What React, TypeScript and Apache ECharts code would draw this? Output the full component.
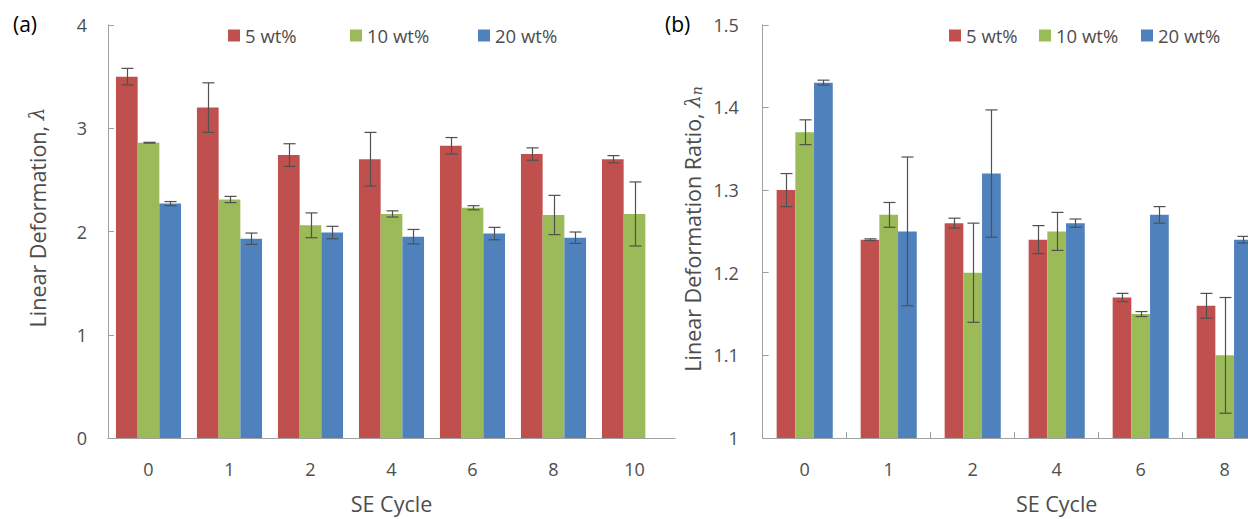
import React, { useEffect, useRef } from "react";
import * as echarts from "echarts";

const categories = ["0", "1", "2", "4", "6", "8", "10"];
const seriesNames = ["5 wt%", "10 wt%", "20 wt%"];
const colors = ["#C0504D", "#9BBB59", "#4F81BD"];

// Panel (a): Linear deformation
const aRed = [3.5, 3.2, 2.74, 2.7, 2.83, 2.75, 2.7];
const aGreen = [2.86, 2.31, 2.06, 2.17, 2.23, 2.16, 2.17];
const aBlue = [2.27, 1.93, 1.99, 1.95, 1.98, 1.94, null];
const aRedErr = [0.08, 0.24, 0.11, 0.26, 0.08, 0.06, 0.035];
const aGreenErr = [0.004, 0.03, 0.12, 0.03, 0.02, 0.19, 0.31];
const aBlueErr = [0.02, 0.055, 0.06, 0.07, 0.06, 0.055, null];

// Panel (b): Linear deformation ratio (category "10" lies outside the visible picture)
const bRed = [1.3, 1.24, 1.26, 1.24, 1.17, 1.16, null];
const bGreen = [1.37, 1.27, 1.2, 1.25, 1.15, 1.1, null];
const bBlue = [1.43, 1.25, 1.32, 1.26, 1.27, 1.24, null];
const bRedErr = [0.02, 0.001, 0.006, 0.017, 0.005, 0.015, null];
const bGreenErr = [0.015, 0.015, 0.06, 0.023, 0.003, 0.07, null];
const bBlueErr = [0.003, 0.09, 0.077, 0.005, 0.01, 0.004, null];

const FONT = "Open Sans";
const AXIS_COLOR = "#a0a0a0";
const LABEL_COLOR = "#4d4d4d";
const ERR_COLOR = "#505050";

function errData(vals: (number | null)[], errs: (number | null)[]) {
  const out: number[][] = [];
  vals.forEach((v, i) => {
    const e = errs[i];
    if (v == null || e == null) return;
    out.push([i, v - e, v + e]);
  });
  return out;
}

function errSeries(name: string, data: number[][], axisIdx: number, offset: number) {
  return {
    type: "custom",
    name,
    xAxisIndex: axisIdx,
    yAxisIndex: axisIdx,
    z: 5,
    encode: { x: 0, y: [1, 2] },
    data,
    renderItem: (params: any, api: any) => {
      const i = api.value(0);
      const lo = api.value(1);
      const hi = api.value(2);
      const pTop = api.coord([i, hi]);
      const pBot = api.coord([i, lo]);
      const x = Math.round(pTop[0] + offset) + 0.5;
      const style = { stroke: ERR_COLOR, lineWidth: 1.2 };
      return {
        type: "group",
        children: [
          { type: "line", shape: { x1: x, y1: pTop[1], x2: x, y2: pBot[1] }, style },
          { type: "line", shape: { x1: x - 6, y1: pTop[1], x2: x + 6, y2: pTop[1] }, style },
          { type: "line", shape: { x1: x - 6, y1: pBot[1], x2: x + 6, y2: pBot[1] }, style },
        ],
      };
    },
  };
}

export default function App() {
  const ref = useRef<HTMLDivElement>(null);

  useEffect(() => {
    if (!ref.current) return;
    const chart = echarts.init(ref.current, null, { renderer: "svg" });

    const bwA = 21.7;
    const bwB = 18.7;
    const aVals = [aRed, aGreen, aBlue];
    const aErrs = [aRedErr, aGreenErr, aBlueErr];
    const bVals = [bRed, bGreen, bBlue];
    const bErrs = [bRedErr, bGreenErr, bBlueErr];

    const legendPosA = [228, 350, 478];
    const legendPosB = [949, 1039, 1141];
    const legends: any[] = [];
    seriesNames.forEach((n, k) => {
      [legendPosA[k], legendPosB[k]].forEach((left) => {
        legends.push({
          left,
          top: 26,
          padding: 0,
          data: [n],
          icon: "rect",
          itemWidth: 12,
          itemHeight: 12,
          textStyle: { fontFamily: FONT, fontSize: 18.5, color: LABEL_COLOR },
          selectedMode: false,
        });
      });
    });

    const series: any[] = [];
    seriesNames.forEach((n, k) => {
      series.push({
        type: "bar",
        name: n,
        xAxisIndex: 0,
        yAxisIndex: 0,
        data: aVals[k],
        barWidth: bwA,
        barGap: "0%",
        itemStyle: { color: colors[k] },
      });
      series.push(errSeries("errA" + k, errData(aVals[k], aErrs[k]), 0, (k - 1) * bwA));
      series.push({
        type: "bar",
        name: n,
        xAxisIndex: 1,
        yAxisIndex: 1,
        data: bVals[k],
        barWidth: bwB,
        barGap: "0%",
        itemStyle: { color: colors[k] },
      });
      series.push(errSeries("errB" + k, errData(bVals[k], bErrs[k]), 1, (k - 1) * bwB));
    });

    const axisLine = { show: true, lineStyle: { color: AXIS_COLOR, width: 1 } };
    const tickLabel = { fontFamily: FONT, fontSize: 18, color: LABEL_COLOR };
    const nameStyle = { fontFamily: FONT, fontSize: 21.5, color: LABEL_COLOR };

    chart.setOption({
      animation: false,
      backgroundColor: "#ffffff",
      legend: legends,
      grid: [
        { left: 108, top: 25, width: 567, height: 418, containLabel: false },
        { left: 762.7, top: 24.8, width: 588, height: 418.5, containLabel: false },
      ],
      xAxis: [
        {
          type: "category",
          gridIndex: 0,
          data: categories,
          axisLine,
          axisTick: { show: false },
          axisLabel: { ...tickLabel, margin: 22 },
          name: "SE Cycle",
          nameLocation: "middle",
          nameGap: 54,
          nameTextStyle: nameStyle,
        },
        {
          type: "category",
          gridIndex: 1,
          data: categories,
          axisLine,
          axisTick: { show: true, inside: true, length: 6, lineStyle: { color: AXIS_COLOR } },
          axisLabel: { ...tickLabel, margin: 22, interval: (idx: number) => idx < 6 },
          name: "SE Cycle",
          nameLocation: "middle",
          nameGap: 54,
          nameTextStyle: nameStyle,
        },
      ],
      yAxis: [
        {
          type: "value",
          gridIndex: 0,
          min: 0,
          max: 4,
          interval: 1,
          axisLine,
          axisTick: { show: true, inside: true, length: 6, lineStyle: { color: AXIS_COLOR } },
          splitLine: { show: false },
          axisLabel: { ...tickLabel, margin: 21 },
          name: "{t|Linear Deformation, }{i|λ}",
          nameLocation: "middle",
          nameGap: 60,
          nameRotate: 90,
          nameTextStyle: {
            ...nameStyle,
            padding: [0, 0, 0, 28],
            rich: {
              t: { ...nameStyle },
              i: { fontFamily: "DejaVu Serif", fontStyle: "italic", fontSize: 20, color: LABEL_COLOR },
            },
          },
        },
        {
          type: "value",
          gridIndex: 1,
          min: 1,
          max: 1.5,
          interval: 0.1,
          axisLine,
          axisTick: { show: true, inside: true, length: 6, lineStyle: { color: AXIS_COLOR } },
          splitLine: { show: false },
          axisLabel: {
            ...tickLabel,
            margin: 24,
            formatter: (v: number) => String(+v.toFixed(1)),
          },
          name: "{t|Linear Deformation Ratio, }{i|λ}{s|n}",
          nameLocation: "middle",
          nameGap: 59,
          nameRotate: 90,
          nameTextStyle: {
            ...nameStyle,
            padding: [0, 0, 0, 5],
            rich: {
              t: { ...nameStyle },
              i: { fontFamily: "DejaVu Serif", fontStyle: "italic", fontSize: 20, color: LABEL_COLOR },
              s: {
                fontFamily: "DejaVu Serif",
                fontStyle: "italic",
                fontSize: 14,
                color: LABEL_COLOR,
                verticalAlign: "bottom",
              },
            },
          },
        },
      ],
      graphic: [
        {
          type: "text",
          left: 13,
          top: 13,
          style: { text: "(a)", fontFamily: FONT, fontSize: 21, fill: "#000" },
        },
        {
          type: "text",
          left: 665,
          top: 13,
          style: { text: "(b)", fontFamily: FONT, fontSize: 21, fill: "#000" },
        },
      ],
      series,
    });

    return () => chart.dispose();
  }, []);

  return (
    <div
      style={{
        position: "fixed",
        left: 0,
        top: 0,
        width: 1248,
        height: 519,
        overflow: "hidden",
        background: "#fff",
      }}
    >
      <div ref={ref} style={{ width: 1360, height: 519 }} />
    </div>
  );
}
